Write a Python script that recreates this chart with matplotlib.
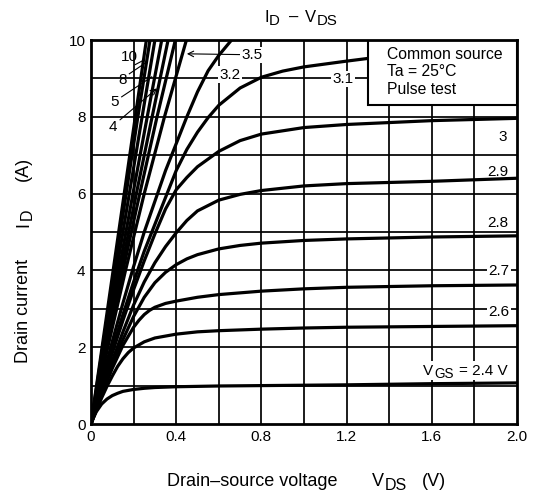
import matplotlib
matplotlib.use("Agg")
import matplotlib.pyplot as plt
from matplotlib.patches import Rectangle

plt.rcParams['font.family'] = ['Liberation Sans', 'DejaVu Sans']

# ---- data ----
# steep (high VGS) curves: drain voltage at given currents
steep_I = [0, 2, 4, 6, 8, 10]
steep_V = {
    "10":  [0, 0.052, 0.104, 0.156, 0.208, 0.260],
    "8":   [0, 0.055, 0.110, 0.165, 0.220, 0.277],
    "6":   [0, 0.060, 0.120, 0.180, 0.240, 0.300],
    "5":   [0, 0.065, 0.131, 0.197, 0.264, 0.332],
    "4":   [0, 0.070, 0.141, 0.213, 0.287, 0.362],
    "3.8": [0, 0.074, 0.150, 0.229, 0.310, 0.396],
    "3.5": [0, 0.079, 0.162, 0.250, 0.345, 0.448],
}

vgs32_V = [0, 0.05, 0.1, 0.15, 0.2, 0.25, 0.3, 0.35, 0.4, 0.45, 0.5, 0.55, 0.6, 0.66]
vgs32_I = [0, 1.1, 2.15, 3.15, 4.1, 5.0, 5.8, 6.6, 7.3, 8.0, 8.65, 9.2, 9.6, 10.0]

vgs31_V = [0, 0.05, 0.1, 0.15, 0.2, 0.25, 0.3, 0.35, 0.4, 0.45, 0.5, 0.55, 0.6, 0.7, 0.8, 0.9, 1.0, 1.2, 1.3, 1.6, 2.0]
vgs31_I = [0, 1.0, 1.95, 2.85, 3.7, 4.5, 5.2, 5.9, 6.6, 7.15, 7.6, 7.98, 8.3, 8.75, 9.03, 9.19, 9.3, 9.45, 9.52, 9.6, 9.68]

vgs30_V = [0, 0.05, 0.1, 0.15, 0.2, 0.25, 0.3, 0.35, 0.4, 0.45, 0.5, 0.6, 0.7, 0.8, 1.0, 1.2, 1.6, 2.0]
vgs30_I = [0, 0.95, 1.85, 2.7, 3.5, 4.25, 4.95, 5.6, 6.1, 6.42, 6.7, 7.1, 7.38, 7.55, 7.72, 7.8, 7.9, 7.96]

vgs29_V = [0, 0.05, 0.1, 0.15, 0.2, 0.25, 0.3, 0.35, 0.4, 0.45, 0.5, 0.6, 0.7, 0.8, 1.0, 1.2, 1.6, 2.0]
vgs29_I = [0, 0.85, 1.65, 2.4, 3.1, 3.7, 4.2, 4.62, 4.98, 5.3, 5.55, 5.83, 5.98, 6.08, 6.2, 6.26, 6.32, 6.4]

vgs28_V = [0, 0.05, 0.1, 0.15, 0.2, 0.25, 0.3, 0.35, 0.4, 0.45, 0.5, 0.6, 0.7, 0.8, 1.0, 1.2, 1.6, 2.0]
vgs28_I = [0, 0.8, 1.55, 2.2, 2.8, 3.3, 3.68, 3.95, 4.15, 4.3, 4.41, 4.56, 4.65, 4.71, 4.78, 4.82, 4.87, 4.9]

vgs27_V = [0, 0.05, 0.1, 0.15, 0.2, 0.225, 0.25, 0.275, 0.3, 0.35, 0.4, 0.5, 0.6, 0.8, 1.0, 1.2, 1.6, 2.0]
vgs27_I = [0, 0.75, 1.45, 2.05, 2.52, 2.7, 2.85, 2.96, 3.04, 3.14, 3.2, 3.3, 3.37, 3.46, 3.52, 3.56, 3.6, 3.62]

vgs26_V = [0, 0.025, 0.05, 0.075, 0.1, 0.125, 0.15, 0.175, 0.2, 0.25, 0.3, 0.4, 0.5, 0.6, 0.8, 1.0, 1.2, 1.6, 2.0]
vgs26_I = [0, 0.35, 0.68, 0.98, 1.25, 1.5, 1.7, 1.86, 1.98, 2.14, 2.24, 2.34, 2.4, 2.43, 2.47, 2.5, 2.52, 2.54, 2.56]

vgs24_V = [0, 0.01, 0.025, 0.05, 0.075, 0.1, 0.125, 0.15, 0.2, 0.25, 0.3, 0.4, 0.6, 0.8, 1.0, 1.2, 1.6, 2.0]
vgs24_I = [0, 0.15, 0.32, 0.52, 0.65, 0.74, 0.8, 0.85, 0.9, 0.93, 0.95, 0.97, 0.99, 1.0, 1.01, 1.02, 1.05, 1.07]

x_ticks = [0, 0.4, 0.8, 1.2, 1.6, 2.0]
x_ticklabels = ["0", "0.4", "0.8", "1.2", "1.6", "2.0"]
y_ticks = [0, 2, 4, 6, 8, 10]
y_ticklabels = ["0", "2", "4", "6", "8", "10"]

W, H = 534, 497

# ---- figure ----
fig = plt.figure(figsize=(W / 100, H / 100), dpi=100)
ax = fig.add_axes([91 / W, 1 - 424 / H, (517 - 91) / W, (424 - 40) / H])
ax.set_xlim(0, 2.0)
ax.set_ylim(0, 10)

# grid
for gx in [0.2 * k for k in range(1, 10)]:
    ax.axvline(gx, color='black', lw=1.25, zorder=1)
for gy in range(1, 10):
    ax.axhline(gy, color='black', lw=1.25, zorder=1)

lw = 2.3
for key, vv in steep_V.items():
    ax.plot(vv, steep_I, color='black', lw=lw, zorder=3, solid_capstyle='butt')
for vv, ii in [(vgs32_V, vgs32_I), (vgs31_V, vgs31_I), (vgs30_V, vgs30_I),
               (vgs29_V, vgs29_I), (vgs28_V, vgs28_I), (vgs27_V, vgs27_I),
               (vgs26_V, vgs26_I), (vgs24_V, vgs24_I)]:
    ax.plot(vv, ii, color='black', lw=lw, zorder=3, solid_joinstyle='round')

for s in ax.spines.values():
    s.set_linewidth(2.0)
    s.set_zorder(6)

ax.set_xticks(x_ticks)
ax.set_xticklabels(x_ticklabels)
ax.set_yticks(y_ticks)
ax.set_yticklabels(y_ticklabels)
ax.tick_params(length=0, labelsize=11, pad=4)

# condition box
ax.add_patch(Rectangle((1.30, 8.32), 0.70, 1.68, facecolor='white', edgecolor='black',
                       lw=1.5, zorder=5))
fs_box = 11.3
ax.text(1.388, 9.61, "Common source", fontsize=fs_box, va='center', ha='left', zorder=7)
ax.text(1.388, 9.17, "Ta = 25°C", fontsize=fs_box, va='center', ha='left', zorder=7)
ax.text(1.388, 8.71, "Pulse test", fontsize=fs_box, va='center', ha='left', zorder=7)

wb = dict(facecolor='white', edgecolor='none', pad=0.8)
fs = 11
# labels of steep curves
ax.text(0.180, 9.57, "10", fontsize=fs, ha='center', va='center', zorder=7)
ax.plot([0.208, 0.249], [9.36, 9.48], color='black', lw=0.8, zorder=4)
ax.text(0.149, 8.96, "8", fontsize=fs, ha='center', va='center', zorder=7)
ax.plot([0.180, 0.255], [9.12, 9.40], color='black', lw=0.8, zorder=4)
ax.text(0.113, 8.39, "5", fontsize=fs, ha='center', va='center', zorder=7)
ax.plot([0.144, 0.285], [8.52, 9.04], color='black', lw=0.8, zorder=4)
ax.text(0.102, 7.73, "4", fontsize=fs, ha='center', va='center', zorder=7)
ax.annotate("", xy=(0.31, 8.74), xytext=(0.136, 7.92),
            arrowprops=dict(arrowstyle='->', lw=0.8, color='black', shrinkA=0, shrinkB=0),
            zorder=4)
ax.text(0.755, 9.62, "3.5", fontsize=fs, ha='center', va='center', zorder=7, bbox=wb)
ax.annotate("", xy=(0.45, 9.64), xytext=(0.70, 9.62),
            arrowprops=dict(arrowstyle='->', lw=0.8, color='black', shrinkA=0, shrinkB=0),
            zorder=4)
ax.text(0.653, 9.10, "3.2", fontsize=fs, ha='center', va='center', zorder=7, bbox=wb)
ax.text(1.183, 8.98, "3.1", fontsize=fs, ha='center', va='center', zorder=7, bbox=wb)
ax.text(1.953, 7.48, "3", fontsize=fs, ha='right', va='center', zorder=7)
ax.text(1.96, 6.57, "2.9", fontsize=fs, ha='right', va='center', zorder=7)
ax.text(1.96, 5.23, "2.8", fontsize=fs, ha='right', va='center', zorder=7)
ax.text(1.965, 3.98, "2.7", fontsize=fs, ha='right', va='center', zorder=7, bbox=wb)
ax.text(1.965, 2.92, "2.6", fontsize=fs, ha='right', va='center', zorder=7, bbox=wb)


# ---- text with near-full-size subscripts, placed in figure pixels ----
def ptext(x, y, s, size, rot=0):
    fig.text(x / W, 1 - y / H, s, fontsize=size, ha='left', va='baseline',
             rotation=rot, rotation_mode='anchor', zorder=8)


# V_GS = 2.4 V inside the plot (white backing)
ax.add_patch(Rectangle(((421 - 91) / 213, (424 - 380) / 38.4), (513 - 421) / 213, 19 / 38.4,
                       facecolor='white', edgecolor='none', zorder=5))
ptext(423.3, 375, "V", 11)
ptext(434.3, 378.5, "GS", 9.8)
ptext(459, 375, "= 2.4 V", 11)

# title
ptext(264, 21.7, "I", 12)
ptext(269, 25, "D", 10.8)
ptext(289, 21.7, "–", 12)
ptext(305, 21.7, "V", 12)
ptext(317, 25, "DS", 10.8)

# x label
ptext(167, 486, "Drain–source voltage", 13)
ptext(371.5, 486, "V", 13)
ptext(385, 490, "DS", 11.5)
ptext(421.5, 486, "(V)", 13)

# y label (rotated)
ptext(28.3, 363.3, "Drain current", 13, rot=90)
ptext(28.3, 227, "I", 13, rot=90)
ptext(31.8, 220, "D", 11.5, rot=90)
ptext(28.3, 181, "(A)", 13, rot=90)

fig.savefig("out.png", dpi=100)
